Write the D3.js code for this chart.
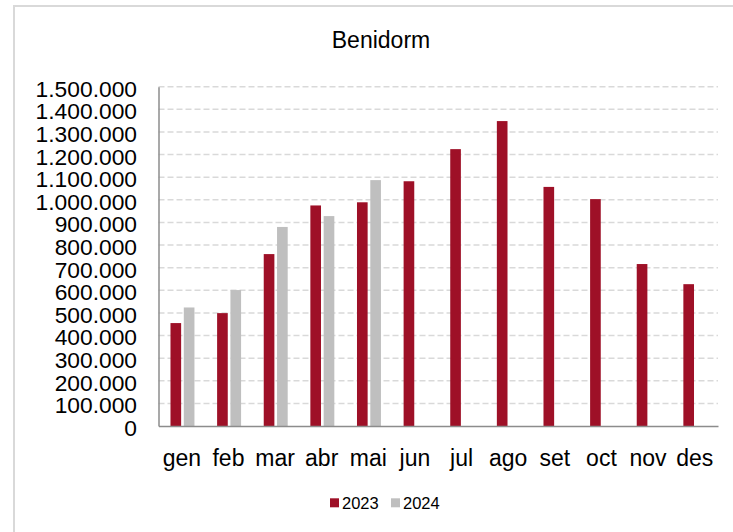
<!DOCTYPE html>
<html>
<head>
<meta charset="utf-8">
<script src="https://cdn.jsdelivr.net/npm/d3@7"></script>
<style>
  html, body { margin: 0; padding: 0; background: #fff; }
  svg { display: block; font-family: "Liberation Sans", Arial, sans-serif; }
</style>
</head>
<body>
<svg id="chart" width="733" height="532"></svg>
<script>
const months = ["gen","feb","mar","abr","mai","jun","jul","ago","set","oct","nov","des"];
const seriesNames = ["2023","2024"];
const values2023 = [455000, 499000, 760000, 975000, 989000, 1082000, 1224000, 1348000, 1057000, 1003000, 716000, 627000];
const values2024 = [524000, 601000, 880000, 928000, 1087000, null, null, null, null, null, null, null];
const yTicks = [0,100000,200000,300000,400000,500000,600000,700000,800000,900000,1000000,1100000,1200000,1300000,1400000,1500000];
const colors = ["#9e1027", "#bfbfbf"];

const svg = d3.select("#chart");

// chart area border (left & top visible, rest cropped)
svg.append("rect")
  .attr("x", 14).attr("y", 6).attr("width", 740).attr("height", 545)
  .attr("fill", "#fff").attr("stroke", "#d9d9d9").attr("stroke-width", 2);

const plotLeft = 158.5, plotRight = 718, plotTop = 86.7, plotBottom = 426;

const x0 = d3.scaleBand().domain(months).range([plotLeft, plotRight]).paddingInner(0).paddingOuter(0);
const step = x0.bandwidth();
const x1 = d3.scaleBand().domain(seriesNames).range([step * 0.257, step * 0.771]).paddingInner(0.2);
const y = d3.scaleLinear().domain([0, 1500000]).range([plotBottom, plotTop]);

// gridlines
svg.append("g").selectAll("line")
  .data(yTicks.filter(d => d > 0))
  .join("line")
  .attr("x1", plotLeft).attr("x2", plotRight)
  .attr("y1", d => y(d)).attr("y2", d => y(d))
  .attr("stroke", "#d9d9d9").attr("stroke-width", 1.5)
  .attr("stroke-dasharray", "6,3");

// bars
const data = months.map((m, i) => ({ month: m, vals: [
  { s: seriesNames[0], v: values2023[i] },
  { s: seriesNames[1], v: values2024[i] }
]}));

const groups = svg.append("g").selectAll("g")
  .data(data).join("g")
  .attr("transform", d => `translate(${x0(d.month)},0)`);

groups.selectAll("rect")
  .data(d => d.vals.filter(e => e.v != null))
  .join("rect")
  .attr("x", d => x1(d.s))
  .attr("width", x1.bandwidth())
  .attr("y", d => y(d.v))
  .attr("height", d => y(0) - y(d.v))
  .attr("fill", d => colors[seriesNames.indexOf(d.s)]);

// y axis
const fmt = d3.formatLocale({ decimal: ",", thousands: ".", grouping: [3], currency: ["", "€"] }).format(",d");
const yAxis = d3.axisLeft(y).tickValues(yTicks).tickFormat(fmt).tickSize(0).tickPadding(21.5);
const gy = svg.append("g").attr("transform", `translate(${plotLeft},0)`).call(yAxis);
gy.select(".domain").attr("stroke", "#8c8c8c").attr("stroke-width", 1.5);
gy.selectAll("text")
  .attr("font-size", 21.5)
  .attr("fill", "#000")
  .attr("font-family", "Liberation Sans, Arial, sans-serif")
  .attr("dy", "0.44em")
  .each(function() {
    const w = this.getComputedTextLength();
    d3.select(this).attr("textLength", w * 1.06).attr("lengthAdjust", "spacingAndGlyphs");
  });

// x axis
const xAxis = d3.axisBottom(x0).tickSize(0).tickPadding(24);
const gx = svg.append("g").attr("transform", `translate(0,${plotBottom})`).call(xAxis);
gx.select(".domain").attr("stroke", "#8c8c8c").attr("stroke-width", 1.5);
gx.selectAll("text")
  .attr("font-size", 23)
  .attr("fill", "#000")
  .attr("font-family", "Liberation Sans, Arial, sans-serif");

// title
svg.append("text")
  .attr("x", 381).attr("y", 48.3)
  .attr("text-anchor", "middle")
  .attr("font-size", 23)
  .attr("fill", "#000")
  .text("Benidorm");

// legend
const legend = svg.append("g");
const legendX = [330, 391];
seriesNames.forEach((s, i) => {
  legend.append("rect")
    .attr("x", legendX[i]).attr("y", 498.3).attr("width", 9).attr("height", 9)
    .attr("fill", colors[i]);
  legend.append("text")
    .attr("x", legendX[i] + 12).attr("y", 509.3)
    .attr("font-size", 16.5)
    .attr("fill", "#000")
    .text(s);
});
</script>
</body>
</html>
